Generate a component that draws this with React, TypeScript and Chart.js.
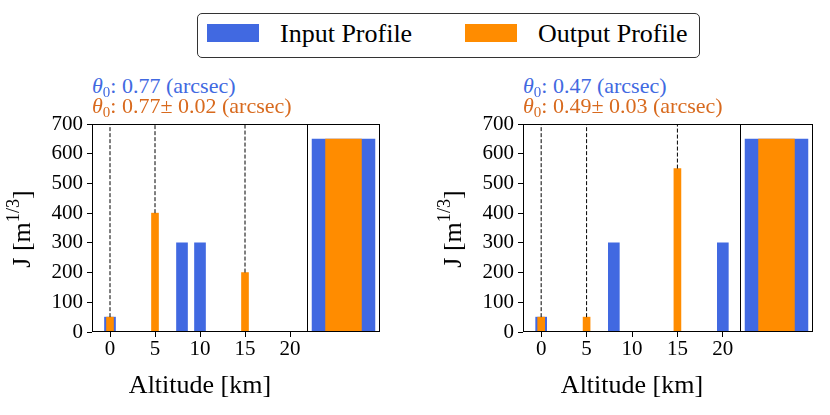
import React, { useEffect, useRef } from 'react';
import { Chart, registerables } from 'chart.js';

Chart.register(...registerables);

const FONT = '"Liberation Serif", "Times New Roman", Times, serif';
const BLUE = '#4169E1';
const ORANGE = '#FF8C00';
const ORANGE_TEXT = '#D86A1E';

// axes
const xTickValues = [0, 5, 10, 15, 20];
const yTickValues = [0, 100, 200, 300, 400, 500, 600, 700];
const X_MIN = -2;
const X_MAX = 22;
const Y_MAX = 700;

// left panel
const leftInputAlt = [0, 8, 10];
const leftInputJ = [50, 300, 300];
const leftOutputAlt = [0, 5, 15];
const leftOutputJ = [50, 400, 200];

// right panel
const rightInputAlt = [0, 8, 20];
const rightInputJ = [50, 300, 300];
const rightOutputAlt = [0, 5, 15];
const rightOutputJ = [50, 50, 550];

// seeing annotations: [input, output, output error]
const leftTheta = ['0.77', '0.77', '0.02'];
const rightTheta = ['0.47', '0.49', '0.03'];

const legendLabels = ['Input Profile', 'Output Profile'];

const sum = (a: number[]) => a.reduce((s, v) => s + v, 0);

const framePlugin = {
  id: 'frame',
  afterDatasetsDraw(chart: any) {
    const { ctx, chartArea: a } = chart;
    ctx.save();
    ctx.strokeStyle = '#000';
    ctx.lineWidth = 1;
    ctx.strokeRect(a.left + 0.5, a.top + 0.5, a.right - a.left - 1, a.bottom - a.top - 1);
    ctx.restore();
  },
};

function mainConfig(inAlt: number[], inJ: number[], outAlt: number[], outJ: number[]): any {
  const dashSets = outAlt.map((a, i) => ({
    type: 'line',
    data: [
      { x: a, y: outJ[i] },
      { x: a, y: Y_MAX },
    ],
    borderColor: '#000',
    borderWidth: 1,
    borderDash: [4, 2],
    pointRadius: 0,
    fill: false,
    order: 0,
  }));
  return {
    type: 'bar',
    data: {
      datasets: [
        {
          label: legendLabels[0],
          data: inAlt.map((a, i) => ({ x: a, y: inJ[i] })),
          backgroundColor: BLUE,
          barThickness: 11,
          grouped: false,
          order: 2,
        },
        {
          label: legendLabels[1],
          data: outAlt.map((a, i) => ({ x: a, y: outJ[i] })),
          backgroundColor: ORANGE,
          barThickness: 7,
          grouped: false,
          order: 1,
        },
        ...dashSets,
      ],
    },
    options: {
      responsive: false,
      animation: false,
      events: [],
      layout: { padding: { top: 24, right: 2, left: 0, bottom: 0 } },
      plugins: { legend: { display: false }, tooltip: { enabled: false } },
      scales: {
        x: {
          type: 'linear',
          min: X_MIN,
          max: X_MAX,
          offset: false,
          grid: { display: true, drawOnChartArea: false, drawTicks: true, tickLength: 5, color: '#000', offset: false },
          border: { display: false },
          ticks: { color: '#000', font: { family: FONT, size: 21 }, padding: 0, maxRotation: 0, autoSkip: false },
          title: {
            display: true,
            text: 'Altitude [km]',
            color: '#000',
            font: { family: FONT, size: 26 },
            padding: { top: 0, bottom: 13 },
          },
          afterBuildTicks: (s: any) => {
            s.ticks = xTickValues.map((v) => ({ value: v }));
          },
          afterFit: (s: any) => {
            s.height = 83;
          },
        },
        y: {
          type: 'linear',
          min: 0,
          max: Y_MAX,
          grid: { display: true, drawOnChartArea: false, drawTicks: true, tickLength: 5, color: '#000' },
          border: { display: false },
          ticks: { color: '#000', font: { family: FONT, size: 21 }, padding: 4, autoSkip: false },
          afterBuildTicks: (s: any) => {
            s.ticks = yTickValues.map((v) => ({ value: v }));
          },
          afterFit: (s: any) => {
            s.width = 92;
          },
        },
      },
    },
    plugins: [framePlugin],
  };
}

function insetConfig(inJ: number[], outJ: number[]): any {
  return {
    type: 'bar',
    data: {
      labels: [''],
      datasets: [
        {
          label: legendLabels[0],
          data: [sum(inJ)],
          backgroundColor: BLUE,
          barPercentage: 0.87,
          categoryPercentage: 1,
          grouped: false,
          order: 2,
        },
        {
          label: legendLabels[1],
          data: [sum(outJ)],
          backgroundColor: ORANGE,
          barPercentage: 0.5,
          categoryPercentage: 1,
          grouped: false,
          order: 1,
        },
      ],
    },
    options: {
      responsive: false,
      animation: false,
      events: [],
      layout: { padding: { top: 24, right: 4, left: 1, bottom: 83 } },
      plugins: { legend: { display: false }, tooltip: { enabled: false } },
      scales: {
        x: { display: false },
        y: { display: false, min: 0, max: Y_MAX },
      },
    },
    plugins: [framePlugin],
  };
}

function ChartCanvas({ config, left, top, width, height }: any) {
  const ref = useRef<HTMLCanvasElement | null>(null);
  useEffect(() => {
    if (!ref.current) return;
    const chart = new Chart(ref.current, config);
    return () => chart.destroy();
  }, []);
  return (
    <canvas
      ref={ref}
      width={width}
      height={height}
      style={{ position: 'absolute', left, top, width, height }}
    />
  );
}

function YTitle({ cx, cy }: { cx: number; cy: number }) {
  return (
    <div
      style={{
        position: 'absolute',
        left: cx - 100,
        top: cy - 15,
        width: 200,
        height: 30,
        lineHeight: '30px',
        fontSize: 26,
        fontFamily: FONT,
        color: '#000',
        textAlign: 'center',
        whiteSpace: 'nowrap',
        transform: 'rotate(-90deg)',
      }}
    >
      J [m
      <span style={{ fontSize: '0.7em', position: 'relative', top: -11 }}>1/3</span>]
    </div>
  );
}

function Theta({ left, values }: { left: number; values: string[] }) {
  const base: any = {
    position: 'absolute',
    left,
    fontSize: 22,
    lineHeight: '20px',
    fontFamily: FONT,
    whiteSpace: 'nowrap',
  };
  const sub = <span style={{ fontSize: '0.68em', position: 'relative', top: 4 }}>0</span>;
  return (
    <>
      <div style={{ ...base, top: 75.9, color: BLUE }}>
        <i>θ</i>
        {sub}: {values[0]} (arcsec)
      </div>
      <div style={{ ...base, top: 95.9, color: ORANGE_TEXT }}>
        <i>θ</i>
        {sub}: {values[1]}± {values[2]} (arcsec)
      </div>
    </>
  );
}

export default function App() {
  const legendText: any = {
    position: 'absolute',
    top: 20.5,
    fontSize: 26,
    lineHeight: '26px',
    fontFamily: FONT,
    color: '#000',
    whiteSpace: 'nowrap',
  };
  return (
    <div
      style={{
        position: 'absolute',
        left: 0,
        top: 0,
        width: 830,
        height: 415,
        background: '#fff',
        overflow: 'hidden',
      }}
    >
      <ChartCanvas config={mainConfig(leftInputAlt, leftInputJ, leftOutputAlt, leftOutputJ)} left={0} top={100} width={310} height={315} />
      <ChartCanvas config={insetConfig(leftInputJ, leftOutputJ)} left={306} top={100} width={78} height={315} />
      <ChartCanvas config={mainConfig(rightInputAlt, rightInputJ, rightOutputAlt, rightOutputJ)} left={431} top={100} width={312} height={315} />
      <ChartCanvas config={insetConfig(rightInputJ, rightOutputJ)} left={739} top={100} width={78} height={315} />

      <YTitle cx={22.2} cy={229} />
      <YTitle cx={453.2} cy={228.5} />

      <Theta left={92} values={leftTheta} />
      <Theta left={523} values={rightTheta} />

      {/* legend */}
      <div
        style={{
          position: 'absolute',
          left: 196.5,
          top: 13,
          width: 503,
          height: 45,
          border: '1px solid #333',
          borderRadius: 5,
          boxSizing: 'border-box',
          background: '#fff',
        }}
      />
      <div style={{ position: 'absolute', left: 206.7, top: 24, width: 52, height: 18, background: BLUE }} />
      <div style={{ ...legendText, left: 280 }}>{legendLabels[0]}</div>
      <div style={{ position: 'absolute', left: 465, top: 24, width: 52, height: 18, background: ORANGE }} />
      <div style={{ ...legendText, left: 538 }}>{legendLabels[1]}</div>
    </div>
  );
}
